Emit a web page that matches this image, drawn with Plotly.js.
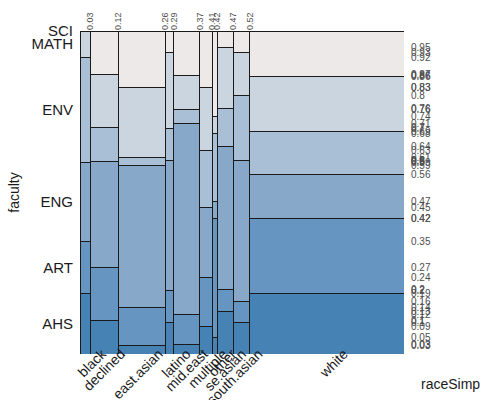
<!DOCTYPE html>
<html>
<head>
<meta charset="utf-8">
<script src="https://cdn.plot.ly/plotly-3.0.1.min.js"></script>
<style>html,body{margin:0;padding:0;background:#fff;}#chart{width:482px;height:400px;}</style>
</head>
<body>
<div id="chart"></div>
<script>
// categories
var races = ["black","declined","east.asian","latino","mid.east","multiple","other","se.asian","south.asian","white"];
var raceShare = [0.031,0.087,0.146,0.025,0.081,0.039,0.014,0.050,0.051,0.476];
var faculties = ["AHS","ART","ENG","ENV","MATH","SCI"];
// share of each faculty within each race group
var AHS  = [0.186,0.103,0.026,0.097,0.029,0.085,0.050,0.133,0.097,0.186];
var ART  = [0.163,0.164,0.118,0.101,0.094,0.151,0.368,0.068,0.067,0.232];
var ENG  = [0.243,0.328,0.441,0.400,0.591,0.218,0.054,0.442,0.434,0.139];
var ENV  = [0.326,0.106,0.024,0.101,0.042,0.175,0.210,0.118,0.202,0.133];
var MATH = [0.082,0.165,0.217,0.234,0.107,0.197,0.054,0.189,0.133,0.168];
var SCI  = [0.000,0.134,0.174,0.067,0.137,0.174,0.264,0.050,0.067,0.142];
var colors = ["#4682B4","#6595C0","#87A8C9","#A9BFD6","#CBD5E0","#ECE9E8"];

var series = [AHS, ART, ENG, ENV, MATH, SCI];

// column geometry from shares
var centers = [], edges = [], acc = 0;
raceShare.forEach(function(w){ centers.push(acc + w/2); acc += w; edges.push(acc); });
var topVals = edges.slice(0, edges.length-1);
function fmt(v){ return String(Math.round(v*100)/100); }

// y boundaries of every cell
var rightVals = [];
for (var i=0;i<races.length;i++){
  var c = 0;
  for (var f=0; f<series.length; f++){
    c += series[f][i];
    if (c > 0.001 && c < 0.999) rightVals.push(c);
  }
}
// left ticks: centres of first column's cells
var leftVals = [], cc = 0;
for (var f=0; f<series.length; f++){
  leftVals.push(Math.round((cc + series[f][0]/2)*1e6)/1e6);
  cc += series[f][0];
}

var traces = series.map(function(vals, f){
  return {
    type: 'bar', name: faculties[f], x: centers, y: vals, width: raceShare,
    marker: {color: colors[f], line: {color: '#1a1a1a', width: 1}},
    hoverinfo: 'skip', showlegend: false
  };
});
traces.push({type:'scatter', mode:'none', x: topVals, y: topVals, xaxis:'x2', yaxis:'y2', hoverinfo:'skip', showlegend:false});

var layout = {
  width: 482, height: 400,
  margin: {l: 80, r: 78, t: 31, b: 46},
  paper_bgcolor: '#fff', plot_bgcolor: '#fff',
  barmode: 'stack',
  font: {family: 'Liberation Sans, Arial, sans-serif', color: '#1a1a1a'},
  xaxis: {
    range: [0, 1], tickmode: 'array', tickvals: centers, ticktext: races,
    tickangle: -45, tickfont: {size: 14, color: '#1a1a1a'},
    showgrid: false, zeroline: false, showline: false, ticks: '',
    ticklabelshift: 17, ticklabelstandoff: -12, fixedrange: true
  },
  yaxis: {
    range: [0, 1], tickmode: 'array', tickvals: leftVals, ticktext: faculties,
    tickfont: {size: 15, color: '#1a1a1a'},
    showgrid: false, zeroline: false, showline: false, ticks: '', ticklabelstandoff: 6,
    title: {text: 'faculty', font: {size: 14, color: '#1a1a1a'}, standoff: 8}
  },
  xaxis2: {
    overlaying: 'x', side: 'top', range: [0, 1], tickmode: 'array',
    tickvals: topVals, ticktext: topVals.map(fmt), tickangle: -90,
    tickfont: {size: 9, color: '#4D4D4D'}, showgrid: false, zeroline: false, ticks: '',
    ticklabelstandoff: 0
  },
  yaxis2: {
    overlaying: 'y', side: 'right', range: [0, 1], tickmode: 'array',
    tickvals: rightVals, ticktext: rightVals.map(fmt),
    tickfont: {size: 10, color: '#4D4D4D'}, showgrid: false, zeroline: false, ticks: '',
    ticklabelstandoff: 6
  },
  annotations: [{
    text: 'raceSimp', xref: 'paper', yref: 'paper', x: 1.143, y: 0, yshift: -30,
    showarrow: false, xanchor: 'center', yanchor: 'middle', font: {size: 14, color: '#1a1a1a'}
  }]
};

Plotly.newPlot('chart', traces, layout, {displayModeBar: false, staticPlot: true});
</script>
</body>
</html>
